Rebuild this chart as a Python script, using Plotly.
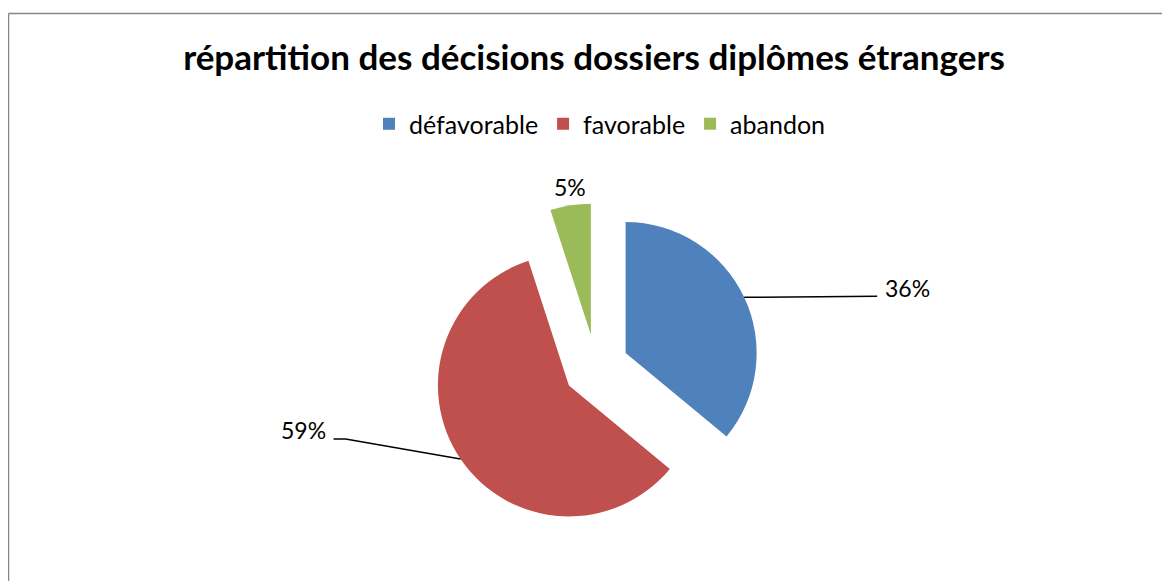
import math
import plotly.graph_objects as go

# ---- data ----
categories = ["défavorable", "favorable", "abandon"]
values = [36, 59, 5]
pct_labels = ["36%", "59%", "5%"]
colors = ["#4F81BD", "#C0504D", "#9BBB59"]
title_text = "répartition des décisions dossiers diplômes étrangers"

# ---- layout constants ----
W, H = 1170, 581
OFF = 8  # page body margin of the html output
FONT = "Lato"
pull = 0.25


def fx(px):
    return (px - OFF) / W


def fy(py):
    return 1 - (py - OFF) / H


# pie box: centre (596, 367) on screen, side 327.5 px
side = 327.5
ccx, ccy = 596, 367
dom_x = [fx(ccx - side / 2), fx(ccx + side / 2)]
dom_y = [fy(ccy + side / 2), fy(ccy - side / 2)]

fig = go.Figure(go.Pie(
    labels=categories, values=values, sort=False, direction="clockwise",
    rotation=0, pull=[pull] * len(values), textinfo="none",
    hoverinfo="label+percent",
    marker=dict(colors=colors, line=dict(width=0)),
    domain=dict(x=dom_x, y=dom_y),
))

# geometry of the pie (same as plotly's own scaling) to anchor leader lines
bw = W * (dom_x[1] - dom_x[0])
bh = H * (dom_y[1] - dom_y[0])
r = min(bw, bh) / 2 / (1 + pull)
cx = W * (dom_x[0] + dom_x[1]) / 2
cy = H * (1 - dom_y[0]) - bh / 2
total = sum(values)

# leader-line styling per label: (elbow offset px, end offset px, side, label y shift)
leaders = [
    ((133, -1), (133, -1), "left", 9),
    ((-115, -20), (-127, -20), "right", 29),
    None,
]

cum = 0
for v, lab, ld in zip(values, pct_labels, leaders):
    mid = math.radians((cum + v / 2) / total * 360)
    cum += v
    px = cx + (1 + pull) * r * math.sin(mid)
    py = cy - (1 + pull) * r * math.cos(mid)
    xp, yp = px / W, 1 - py / H
    if ld is not None:
        (ex, ey), (tx, ty), side_, ysh = ld
        path = "M {:.5f},{:.5f} L {:.5f},{:.5f} L {:.5f},{:.5f}".format(
            xp, yp, xp + ex / W, yp - ey / H, xp + tx / W, yp - ty / H)
        fig.add_shape(type="path", xref="paper", yref="paper", path=path,
                      line=dict(color="black", width=1.5))
        fig.add_annotation(x=xp, y=yp, xref="paper", yref="paper", text=lab,
                           showarrow=False, xanchor=side_, yanchor="middle",
                           xshift=tx + (6 if side_ == "left" else -6), yshift=ysh,
                           font=dict(family=FONT, size=23, color="black"))
    else:
        fig.add_annotation(x=xp, y=yp, xref="paper", yref="paper", text=lab,
                           showarrow=False, yshift=18,
                           font=dict(family=FONT, size=23, color="black"))

# chart frame (top and left edges visible)
fig.add_shape(type="line", xref="paper", yref="paper", x0=fx(8.5), x1=1.0,
              y0=fy(13.5), y1=fy(13.5), line=dict(color="#868686", width=1.5))
fig.add_shape(type="line", xref="paper", yref="paper", x0=fx(8.5), x1=fx(8.5),
              y0=0, y1=fy(13.5), line=dict(color="#868686", width=1.5))

fig.update_layout(
    width=W, height=H,
    margin=dict(l=0, r=0, t=0, b=0),
    paper_bgcolor="white", plot_bgcolor="white",
    title=dict(text="<b>" + title_text + "</b>", x=fx(594), xanchor="center",
               y=fy(58), yanchor="middle", yref="container",
               font=dict(family=FONT, size=35, color="black")),
    showlegend=True,
    legend=dict(orientation="h", x=fx(600), xanchor="center",
                y=fy(124), yanchor="middle",
                font=dict(family=FONT, size=25, color="black"),
                itemwidth=30, tracegroupgap=0),
)

fig.write_html("out.html")
